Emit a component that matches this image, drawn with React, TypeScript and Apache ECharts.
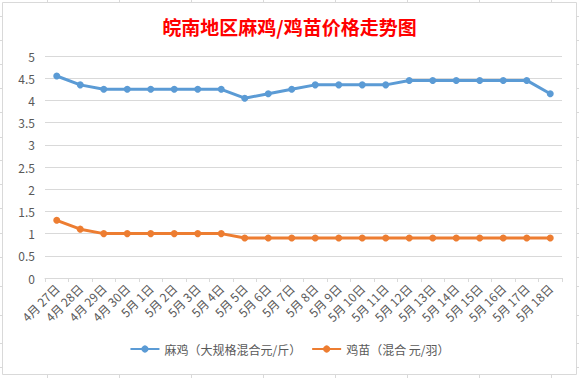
import React, { useEffect, useRef } from "react";
import * as echarts from "echarts";

const categories = [
  "4月 27日", "4月 28日", "4月 29日", "4月 30日",
  "5月 1日", "5月 2日", "5月 3日", "5月 4日", "5月 5日", "5月 6日",
  "5月 7日", "5月 8日", "5月 9日", "5月 10日", "5月 11日", "5月 12日",
  "5月 13日", "5月 14日", "5月 15日", "5月 16日", "5月 17日", "5月 18日",
];

const chickenName = "麻鸡（大规格混合元/斤）";
const chickenValues = [
  4.55, 4.35, 4.25, 4.25, 4.25, 4.25, 4.25, 4.25, 4.05, 4.15, 4.25,
  4.35, 4.35, 4.35, 4.35, 4.45, 4.45, 4.45, 4.45, 4.45, 4.45, 4.15,
];

const chickName = "鸡苗（混合 元/羽）";
const chickValues = [
  1.3, 1.1, 1.0, 1.0, 1.0, 1.0, 1.0, 1.0, 0.9, 0.9, 0.9,
  0.9, 0.9, 0.9, 0.9, 0.9, 0.9, 0.9, 0.9, 0.9, 0.9, 0.9,
];

const titleText = "皖南地区麻鸡/鸡苗价格走势图";

const colMarks = [47, 119, 191, 263, 335, 407, 479, 551];
const rowMarks = [16, 40, 64, 88, 112, 137, 160, 184, 208, 233, 257, 286, 315, 343, 367];

const FONT = "'Noto Sans CJK SC', 'Noto Sans', sans-serif";
const GRAY = "#d9d9d9";
const TEXT = "#595959";

export default function App() {
  const ref = useRef<HTMLDivElement>(null);

  useEffect(() => {
    if (!ref.current) return;
    const chart = echarts.init(ref.current, undefined, { renderer: "svg" });

    const marks: any[] = [];
    colMarks.forEach((x) => {
      marks.push({ type: "line", shape: { x1: x + 0.5, y1: 0, x2: x + 0.5, y2: 2 }, style: { stroke: GRAY, lineWidth: 1 }, silent: true });
      marks.push({ type: "line", shape: { x1: x + 0.5, y1: 375, x2: x + 0.5, y2: 378 }, style: { stroke: GRAY, lineWidth: 1 }, silent: true });
    });
    rowMarks.forEach((y) => {
      marks.push({ type: "line", shape: { x1: 0, y1: y + 0.5, x2: 2, y2: y + 0.5 }, style: { stroke: GRAY, lineWidth: 1 }, silent: true });
      marks.push({ type: "line", shape: { x1: 577, y1: y + 0.5, x2: 579, y2: y + 0.5 }, style: { stroke: GRAY, lineWidth: 1 }, silent: true });
    });

    chart.setOption({
      animation: false,
      backgroundColor: "#ffffff",
      textStyle: { fontFamily: FONT },
      title: {
        text: titleText,
        left: "center",
        top: 12,
        textStyle: { color: "#ff0000", fontSize: 19, fontWeight: "bold", fontFamily: FONT },
      },
      legend: {
        bottom: 18,
        left: "center",
        itemWidth: 29,
        itemHeight: 9,
        itemGap: 10,
        textStyle: { color: TEXT, fontSize: 12, fontFamily: FONT },
        data: [chickenName, chickName],
      },
      grid: { left: 45, right: 17, top: 56, bottom: 100, containLabel: false },
      xAxis: {
        type: "category",
        data: categories,
        boundaryGap: true,
        axisLine: { lineStyle: { color: GRAY, width: 1 } },
        axisTick: { show: true, length: 4, lineStyle: { color: GRAY } },
        axisLabel: {
          rotate: 45,
          interval: 0,
          margin: 8,
          color: TEXT,
          fontSize: 12,
          fontFamily: FONT,
        },
      },
      yAxis: {
        type: "value",
        min: 0,
        max: 5,
        interval: 0.5,
        axisLine: { show: false },
        axisTick: { show: false },
        splitLine: { lineStyle: { color: GRAY, width: 1 } },
        axisLabel: { color: TEXT, fontSize: 12, margin: 10, fontFamily: FONT },
      },
      series: [
        {
          name: chickenName,
          type: "line",
          data: chickenValues,
          symbol: "circle",
          symbolSize: 7,
          lineStyle: { color: "#5b9bd5", width: 3 },
          itemStyle: { color: "#5b9bd5" },
        },
        {
          name: chickName,
          type: "line",
          data: chickValues,
          symbol: "circle",
          symbolSize: 7,
          lineStyle: { color: "#ed7d31", width: 3 },
          itemStyle: { color: "#ed7d31" },
        },
      ],
      graphic: [
        {
          type: "rect",
          shape: { x: 2.5, y: 2.5, width: 574, height: 372 },
          style: { fill: "none", stroke: GRAY, lineWidth: 1 },
          silent: true,
          z: -1,
        },
        ...marks,
      ],
    });

    return () => chart.dispose();
  }, []);

  return (
    <div
      ref={ref}
      style={{ position: "fixed", left: 0, top: 0, width: 579, height: 378 }}
    />
  );
}
